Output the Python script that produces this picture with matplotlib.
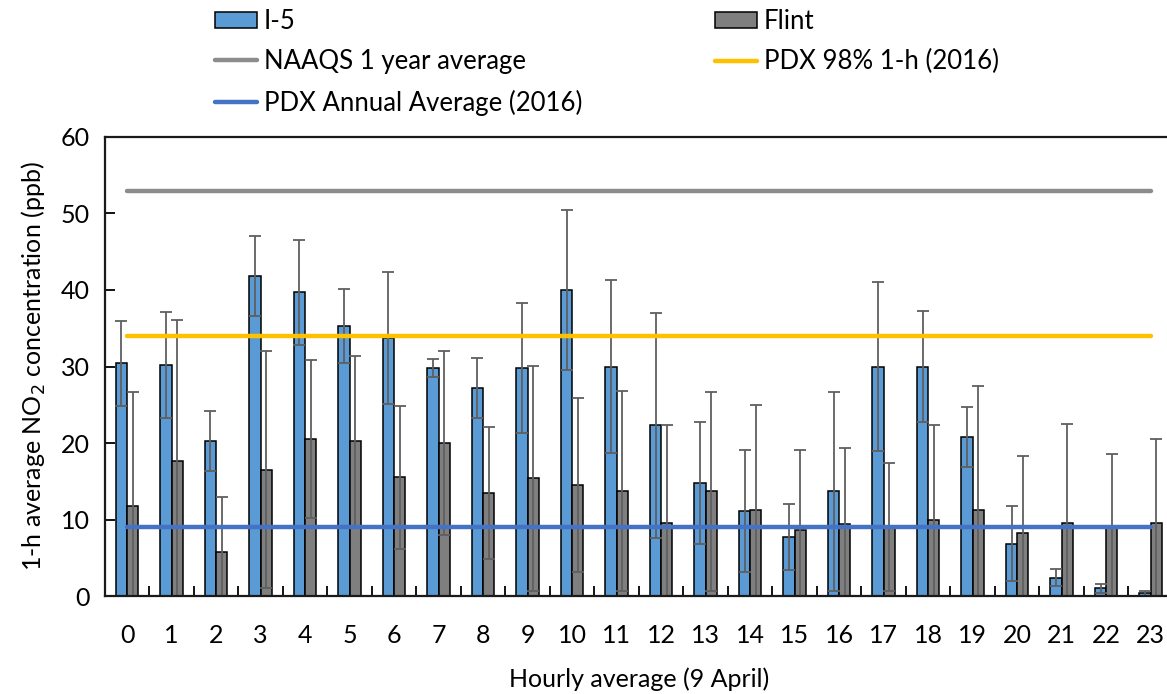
import matplotlib
matplotlib.use("Agg")
import matplotlib.pyplot as plt
import numpy as np

plt.rcParams['font.family'] = ['Lato', 'DejaVu Sans']

# data
hours = list(range(24))
i5 = [30.4, 30.2, 20.3, 41.8, 39.7, 35.3, 33.7, 29.8, 27.2, 29.8, 40.0, 30.0,
      22.3, 14.8, 11.1, 7.7, 13.7, 30.0, 30.0, 20.8, 6.8, 2.4, 1.0, 0.35]
i5_err = [5.5, 6.9, 3.9, 5.2, 6.9, 4.8, 8.6, 1.2, 3.9, 8.5, 10.5, 11.3,
          14.7, 8.0, 8.0, 4.3, 13.0, 11.1, 7.3, 3.9, 4.9, 1.1, 0.6, 0.3]
flint = [11.7, 17.7, 5.8, 16.5, 20.5, 20.2, 15.5, 20.0, 13.5, 15.4, 14.5, 13.7,
         9.5, 13.7, 11.2, 8.6, 9.4, 9.0, 9.9, 11.2, 8.3, 9.6, 9.1, 9.5]
flint_err = [15.0, 18.4, 7.1, 15.5, 10.3, 11.2, 9.4, 12.0, 8.6, 14.7, 11.4, 13.1,
             12.9, 13.0, 13.8, 10.5, 9.9, 8.4, 12.4, 16.2, 10.0, 12.9, 9.4, 11.0]
naaqs = 53
pdx_98 = 34
pdx_annual = 9

fig = plt.figure(figsize=(11.67, 6.94), dpi=100)
ax = fig.add_axes([0.0898, 0.1412, 0.9152, 0.6614])

x = np.arange(len(hours))
w = 0.25
ekw = dict(ecolor='#5f5f5f', elinewidth=1.3, capsize=4.5, capthick=1.3)
b1 = ax.bar(x - w/2, i5, w, color='#5B9BD5', edgecolor='black', linewidth=1.1,
            yerr=i5_err, error_kw=ekw, label='I-5', zorder=2)
b2 = ax.bar(x + w/2, flint, w, color='#7F7F7F', edgecolor='black', linewidth=1.1,
            yerr=flint_err, error_kw=ekw, label='Flint', zorder=2)

l1, = ax.plot([x[0], x[-1]], [naaqs, naaqs], color='#8C8C8C', lw=3.2,
              solid_capstyle='round', label='NAAQS 1 year average', zorder=4)
l2, = ax.plot([x[0], x[-1]], [pdx_98, pdx_98], color='#FFC000', lw=3.2,
              solid_capstyle='round', label='PDX 98% 1-h (2016)', zorder=4)
l3, = ax.plot([x[0], x[-1]], [pdx_annual, pdx_annual], color='#4472C4', lw=3.2,
              solid_capstyle='round', label='PDX Annual Average (2016)', zorder=4)

ax.set_xlim(-0.5, 23.5)
ax.set_ylim(0, 60)
ax.set_yticks(range(0, 61, 10))
ax.set_xticks(x)
ax.set_xticklabels([str(h) for h in hours])
ax.set_xticks(np.arange(0.5, 23.5, 1), minor=True)
ax.tick_params(axis='x', which='major', length=0, pad=20, labelsize=18)
ax.tick_params(axis='x', which='minor', direction='in', length=7, width=1.3, color='black')
ax.tick_params(axis='y', direction='in', length=7, width=1.3, pad=11, labelsize=18)
for s in ax.spines.values():
    s.set_linewidth(1.6)
    s.set_color('#1a1a1a')

ax.set_xlabel('Hourly average (9 April)', fontsize=18, labelpad=15)
ax.set_ylabel('1-h average NO$_2$ concentration (ppb)', fontsize=18, labelpad=9)

fig.legend([b1, l1, l3, b2, l2],
           ['I-5', 'NAAQS 1 year average', 'PDX Annual Average (2016)', 'Flint', 'PDX 98% 1-h (2016)'],
           ncol=2, loc='upper left', bbox_to_anchor=(0.18, 0.995), frameon=False,
           fontsize=18.5, handlelength=1.63, handleheight=0.58, handletextpad=0.27,
           labelspacing=0.6, columnspacing=5.15, borderaxespad=0, borderpad=0.2)

fig.savefig('out.png', dpi=100)
